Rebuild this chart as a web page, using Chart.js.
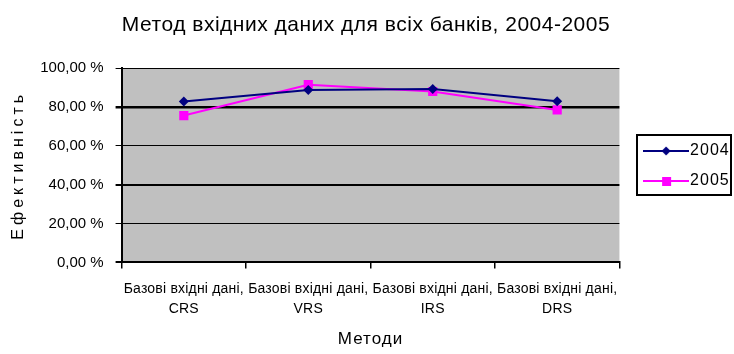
<!DOCTYPE html>
<html>
<head>
<meta charset="utf-8">
<script src="https://cdn.jsdelivr.net/npm/chart.js@4/dist/chart.umd.min.js"></script>
<style>
  html, body { margin: 0; padding: 0; background: #ffffff; }
  #wrap { width: 734px; height: 354px; }
</style>
</head>
<body>
<div id="wrap"><canvas id="c" width="734" height="354"></canvas></div>
<script>
// Methods (categories) and efficiency values per year, in percent
const categories = [
  ["Базові вхідні дані,", "CRS"],
  ["Базові вхідні дані,", "VRS"],
  ["Базові вхідні дані,", "IRS"],
  ["Базові вхідні дані,", "DRS"]
];
const years = ["2004", "2005"];
const values2004 = [82.8, 88.8, 89.3, 83.0];
const values2005 = [75.6, 91.5, 88.0, 78.5];
const yTicks = [0, 20, 40, 60, 80, 100];

const FONT = "'Liberation Sans', Arial, sans-serif";
const NAVY = "#000080";
const MAGENTA = "#ff00ff";

// Small legend glyphs: a line segment with the series marker in the middle
function legendGlyph(color, shape) {
  const cv = document.createElement("canvas");
  cv.width = 46; cv.height = 12;
  const g = cv.getContext("2d");
  g.strokeStyle = color;
  g.lineWidth = 2;
  g.beginPath(); g.moveTo(0, 6); g.lineTo(46, 6); g.stroke();
  g.fillStyle = color;
  if (shape === "diamond") {
    g.beginPath(); g.moveTo(23, 1.5); g.lineTo(27.5, 6); g.lineTo(23, 10.5); g.lineTo(18.5, 6); g.closePath(); g.fill();
  } else {
    g.fillRect(19, 2, 9, 9);
  }
  return cv;
}
const glyphs = [legendGlyph(NAVY, "diamond"), legendGlyph(MAGENTA, "square")];

// Wraps a drawing/measuring method so its text is set with extra letter spacing
function spaced(obj, method, spacing) {
  if (!obj || obj["_spaced_" + method]) return;
  const orig = obj[method];
  obj[method] = function (...args) {
    const ctx = this.ctx;
    const prev = ctx.letterSpacing;
    ctx.letterSpacing = spacing;
    const res = orig.apply(this, args);
    ctx.letterSpacing = prev;
    return res;
  };
  obj["_spaced_" + method] = true;
}

const textSpacing = {
  id: "textSpacing",
  beforeLayout(chart) {
    spaced(chart.titleBlock, "draw", "0.5px");
    spaced(chart.legend, "fit", "1px");
    spaced(chart.legend, "draw", "1px");
    spaced(chart.scales.x, "drawLabels", "0.2px");
    spaced(chart.scales.x, "drawTitle", "1px");
    spaced(chart.scales.y, "drawTitle", "4px");
  }
};

// Keeps the legend a fixed gap to the right of the plot, centred on it vertically
const legendPlacement = {
  id: "legendPlacement",
  afterUpdate(chart) {
    const lg = chart.legend, a = chart.chartArea;
    if (!lg || !lg.legendHitBoxes.length) return;
    const hb = lg.legendHitBoxes;
    const first = hb[0], last = hb[hb.length - 1];
    const dx = (a.right + 30.7) - first.left;
    const dy = ((a.top + a.bottom) / 2 + 0.7) - (first.top + last.top + last.height) / 2;
    lg.left += dx; lg.right += dx;
    lg.top += dy; lg.bottom += dy;
    hb.forEach(h => { h.left += dx; h.top += dy; });
  }
};

// Grey plot background and the frame round the legend
const chartDecor = {
  id: "chartDecor",
  beforeDraw(chart) {
    const a = chart.chartArea, ctx = chart.ctx;
    ctx.save();
    ctx.fillStyle = "#c0c0c0";
    ctx.fillRect(a.left, a.top, a.right - a.left, a.bottom - a.top);
    ctx.restore();
  },
  afterDraw(chart) {
    const lg = chart.legend, ctx = chart.ctx;
    if (!lg || !lg.legendHitBoxes.length) return;
    let l = Infinity, t = Infinity, r = -Infinity, b = -Infinity;
    lg.legendHitBoxes.forEach(h => {
      l = Math.min(l, h.left); t = Math.min(t, h.top);
      r = Math.max(r, h.left + h.width); b = Math.max(b, h.top + h.height);
    });
    ctx.save();
    ctx.strokeStyle = "#000000";
    ctx.lineWidth = 2;
    ctx.strokeRect(Math.round(l - 12.7), Math.round(t - 7.7), Math.round(r - l + 14.7), Math.round(b - t + 14));
    ctx.restore();
  }
};

const gridWidths = { 0: 2, 20: 1, 40: 2, 60: 1, 80: 2.5, 100: 1 };

new Chart(document.getElementById("c"), {
  type: "line",
  data: {
    labels: categories,
    datasets: [
      {
        label: years[0],
        data: values2004,
        borderColor: NAVY,
        backgroundColor: NAVY,
        borderWidth: 2,
        pointStyle: "rectRot",
        pointRadius: 5,
        pointBorderWidth: 0,
        tension: 0
      },
      {
        label: years[1],
        data: values2005,
        borderColor: MAGENTA,
        backgroundColor: MAGENTA,
        borderWidth: 2,
        pointStyle: "rect",
        pointRadius: 6.5,
        pointBorderWidth: 0,
        tension: 0
      }
    ]
  },
  options: {
    responsive: false,
    animation: false,
    layout: { padding: { left: 9, right: 11, top: 0, bottom: 2 } },
    plugins: {
      title: {
        display: true,
        text: "Метод вхідних даних для всіх банків, 2004-2005",
        color: "#000000",
        font: { family: FONT, size: 21, weight: "normal" },
        padding: { top: 13, bottom: 30 }
      },
      legend: {
        display: true,
        position: "right",
        align: "center",
        labels: {
          color: "#000000",
          font: { family: FONT, size: 16 },
          usePointStyle: true,
          pointStyleWidth: 32,
          padding: 14,
          generateLabels(chart) {
            return chart.data.datasets.map((ds, i) => ({
              text: ds.label,
              datasetIndex: i,
              pointStyle: glyphs[i],
              fillStyle: ds.borderColor,
              strokeStyle: ds.borderColor,
              fontColor: "#000000",
              lineWidth: 0,
              hidden: false
            }));
          }
        }
      },
      tooltip: { enabled: false }
    },
    scales: {
      x: {
        offset: true,
        grid: {
          offset: true,
          drawOnChartArea: false,
          drawTicks: true,
          tickLength: 6,
          color: "#000000",
          lineWidth: 1.5
        },
        border: { color: "#000000", width: 2 },
        ticks: {
          color: "#000000",
          font: { family: FONT, size: 14, lineHeight: 1.4 },
          maxRotation: 0,
          autoSkip: false,
          padding: 11
        },
        title: {
          display: true,
          text: "Методи",
          color: "#000000",
          font: { family: FONT, size: 17 },
          padding: { top: 0, bottom: 2 }
        }
      },
      y: {
        min: 0,
        max: 100,
        afterBuildTicks(axis) { axis.ticks = yTicks.map(v => ({ value: v })); },
        grid: {
          color: "#000000",
          lineWidth: ctx => (ctx.tick ? (gridWidths[ctx.tick.value] ?? 1) : 1),
          drawTicks: true,
          tickLength: 6
        },
        border: { color: "#000000", width: 2 },
        ticks: {
          color: "#000000",
          font: { family: FONT, size: 15 },
          padding: 12,
          callback: v => v.toFixed(2).replace(".", ",") + " %"
        },
        title: {
          display: true,
          text: "Ефективність",
          color: "#000000",
          font: { family: FONT, size: 16 },
          padding: { top: 0, bottom: 0 }
        }
      }
    }
  },
  plugins: [textSpacing, legendPlacement, chartDecor]
});
</script>
</body>
</html>
